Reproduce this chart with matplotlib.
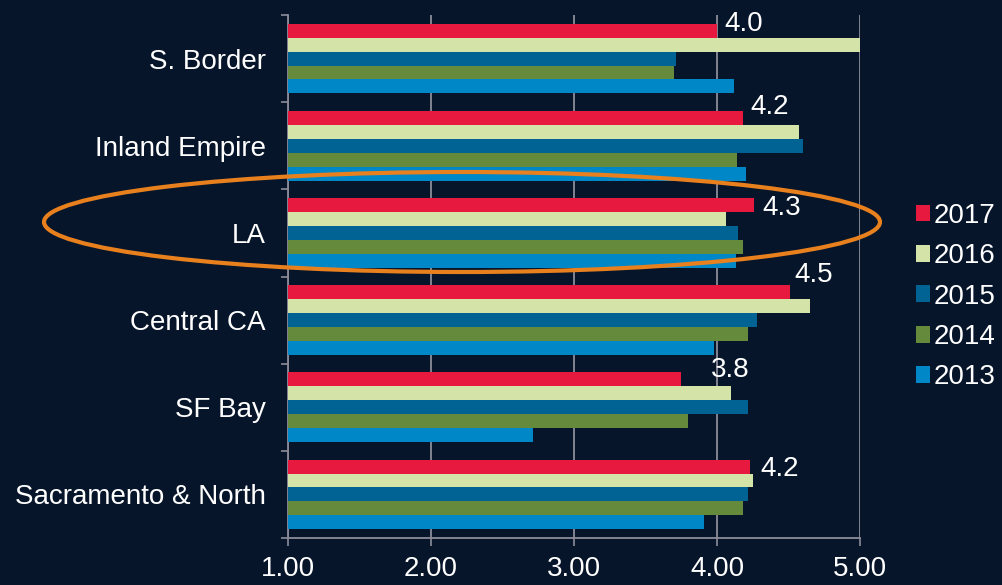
import matplotlib
matplotlib.use("Agg")
import matplotlib.pyplot as plt
from matplotlib.patches import Ellipse, Patch
from matplotlib.ticker import FixedLocator
import numpy as np

plt.rcParams['font.family'] = ['Liberation Sans', 'DejaVu Sans']

regions = ["S. Border", "Inland Empire", "LA", "Central CA", "SF Bay", "Sacramento & North"]
years = ["2017", "2016", "2015", "2014", "2013"]
v2017 = [4.00, 4.18, 4.26, 4.51, 3.75, 4.23]
v2016 = [5.00, 4.57, 4.06, 4.65, 4.10, 4.25]
v2015 = [3.71, 4.60, 4.15, 4.28, 4.22, 4.22]
v2014 = [3.70, 4.14, 4.18, 4.22, 3.80, 4.18]
v2013 = [4.12, 4.20, 4.13, 3.98, 2.71, 3.91]
labels_2017 = ["4.0", "4.2", "4.3", "4.5", "3.8", "4.2"]
label_x = [4.05, 4.23, 4.32, 4.54, 3.96, 4.30]
label_dy = [-0.40, -0.45, -0.29, -0.52, -0.43, -0.29]
x_ticks = [1.0, 2.0, 3.0, 4.0, 5.0]

series = [v2017, v2016, v2015, v2014, v2013]
colors = ["#E8193F", "#D4E4A8", "#006394", "#668A3C", "#0087C8"]
bg = "#07152A"
grid_c = "#8C8C98"
FS = 20

fig = plt.figure(figsize=(10.02, 5.85), dpi=100, facecolor=bg)
ax = fig.add_axes([0.2874, 0.0803, 0.5709, 0.8941], facecolor=bg)

n = len(regions)
y = np.arange(n)
h = 0.16
for k, vals in enumerate(series):
    off = -0.32 + k * h
    ax.barh(y + off, np.array(vals) - 1.0, left=1.0, height=h, color=colors[k],
            edgecolor="none", zorder=3)

for i, (lab, lx, dy) in enumerate(zip(labels_2017, label_x, label_dy)):
    ax.text(lx, i + dy, lab, color="white", fontsize=FS, ha="left", va="center", zorder=4)

ax.set_xlim(1.0, 5.0)
ax.set_ylim(n - 0.5, -0.5)
ax.set_xticks(x_ticks)
ax.set_xticklabels([f"{t:.2f}" for t in x_ticks])
ax.set_yticks(y)
ax.set_yticklabels(regions)
ax.yaxis.set_minor_locator(FixedLocator(np.arange(-0.5, n, 1.0)))
ax.tick_params(axis="y", which="major", length=0, pad=16, labelsize=FS, labelcolor="white")
ax.tick_params(axis="y", which="minor", length=5, color=grid_c, width=1.2)
ax.tick_params(axis="x", which="major", length=6, color=grid_c, width=1.2, pad=7,
               labelsize=FS, labelcolor="white")
ax.grid(axis="x", color=grid_c, linewidth=1.3, zorder=0)
ax.set_axisbelow(True)
for s in ["top", "right"]:
    ax.spines[s].set_visible(False)
for s in ["left", "bottom"]:
    ax.spines[s].set_color(grid_c)
    ax.spines[s].set_linewidth(1.3)

handles = [Patch(facecolor=c, edgecolor="none") for c in colors]
fig.legend(handles, years, loc="center left", bbox_to_anchor=(0.914, 0.493),
           frameon=False, fontsize=FS, labelcolor="white", handlelength=0.5,
           handleheight=0.55, handletextpad=0.15, labelspacing=0.52, borderpad=0,
           borderaxespad=0)

# orange highlight ellipse (figure pixel coordinates)
ell = Ellipse((462, 585 - 222), 836, 100, transform=None, fill=False,
              edgecolor="#E8801E", linewidth=3, clip_on=False, zorder=10)
fig.add_artist(ell)

fig.savefig("out.png", dpi=100, facecolor=bg)
